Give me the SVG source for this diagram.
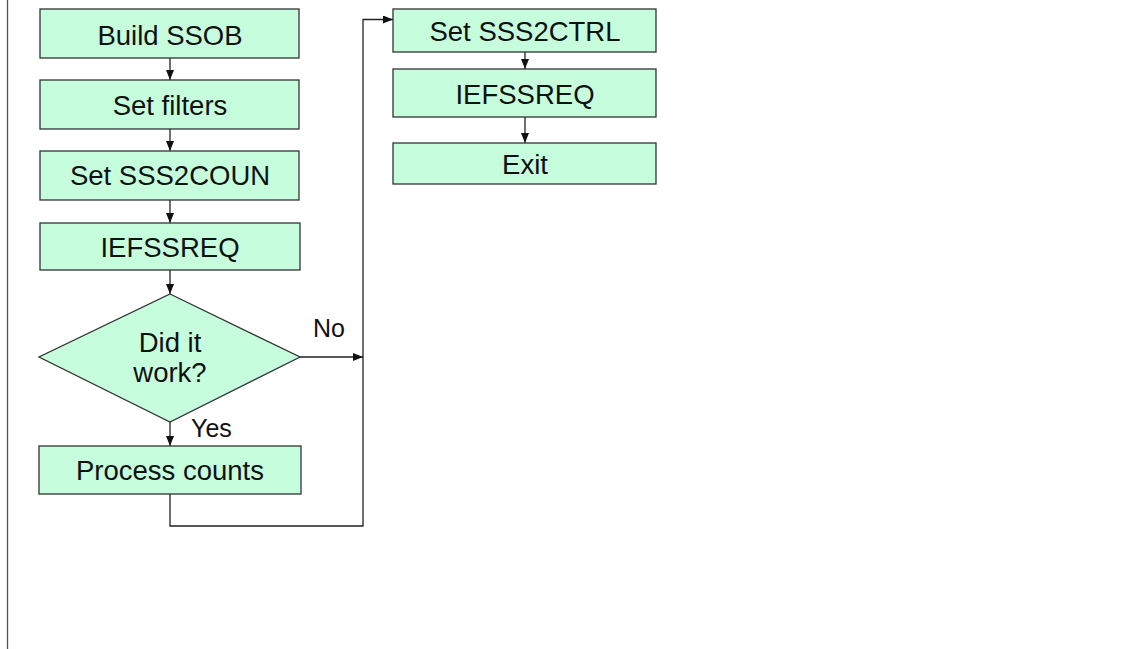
<svg xmlns="http://www.w3.org/2000/svg" width="1125" height="649" viewBox="0 0 1125 649">
<style>
.box{fill:#c6fddc;stroke:#333;stroke-width:1.3}
.t{font-family:"Liberation Sans",Arial,sans-serif;font-size:27.5px;fill:#111;text-anchor:middle}
.l{font-family:"Liberation Sans",Arial,sans-serif;font-size:25px;fill:#111}
.c{fill:none;stroke:#222;stroke-width:1.3}
</style>
<defs>
<marker id="a" viewBox="0 0 10 8" refX="10" refY="4" markerWidth="10" markerHeight="8" markerUnits="userSpaceOnUse" orient="auto">
<path d="M0,0 L10,4 L0,8 Z" fill="#111"/>
</marker>
</defs>
<rect width="1125" height="649" fill="#fff"/>
<line x1="7.5" y1="0" x2="7.5" y2="649" stroke="#555" stroke-width="1.3"/>
<g id="connectors">
<line class="c" x1="170" y1="58" x2="170" y2="80" marker-end="url(#a)"/>
<line class="c" x1="170" y1="129" x2="170" y2="151" marker-end="url(#a)"/>
<line class="c" x1="170" y1="200" x2="170" y2="223" marker-end="url(#a)"/>
<line class="c" x1="170" y1="270" x2="170" y2="294" marker-end="url(#a)"/>
<line class="c" x1="170" y1="422" x2="170" y2="446" marker-end="url(#a)"/>
<line class="c" x1="300" y1="357" x2="363" y2="357" marker-end="url(#a)"/>
<polyline class="c" points="170,494 170,526 363,526 363,19.5 393,19.5" marker-end="url(#a)"/>
<line class="c" x1="525" y1="52" x2="525" y2="69" marker-end="url(#a)"/>
<line class="c" x1="525" y1="117" x2="525" y2="143" marker-end="url(#a)"/>
<text class="l" x="313" y="337">No</text>
<text class="l" x="191" y="437">Yes</text>
</g>
<g id="build-ssob"><rect class="box" x="40" y="9" width="259" height="49"/><text class="t" x="170" y="45">Build SSOB</text></g>
<g id="set-filters"><rect class="box" x="40" y="80" width="259" height="49"/><text class="t" x="170" y="115">Set filters</text></g>
<g id="set-sss2coun"><rect class="box" x="40" y="151" width="259" height="49"/><text class="t" x="170" y="185">Set SSS2COUN</text></g>
<g id="iefssreq1"><rect class="box" x="40" y="223" width="260" height="47"/><text class="t" x="170" y="257">IEFSSREQ</text></g>
<g id="did-it-work"><polygon class="box" points="170,294 300,357 170,422 39,357"/><text class="t" x="170" y="352">Did it</text><text class="t" x="170" y="382">work?</text></g>
<g id="process-counts"><rect class="box" x="39" y="446" width="262" height="48"/><text class="t" x="170" y="480">Process counts</text></g>
<g id="set-sss2ctrl"><rect class="box" x="393" y="9" width="263" height="43"/><text class="t" x="525" y="41">Set SSS2CTRL</text></g>
<g id="iefssreq2"><rect class="box" x="393" y="69" width="263" height="48"/><text class="t" x="525" y="104">IEFSSREQ</text></g>
<g id="exit"><rect class="box" x="393" y="143" width="263" height="41"/><text class="t" x="525" y="174">Exit</text></g>
</svg>
